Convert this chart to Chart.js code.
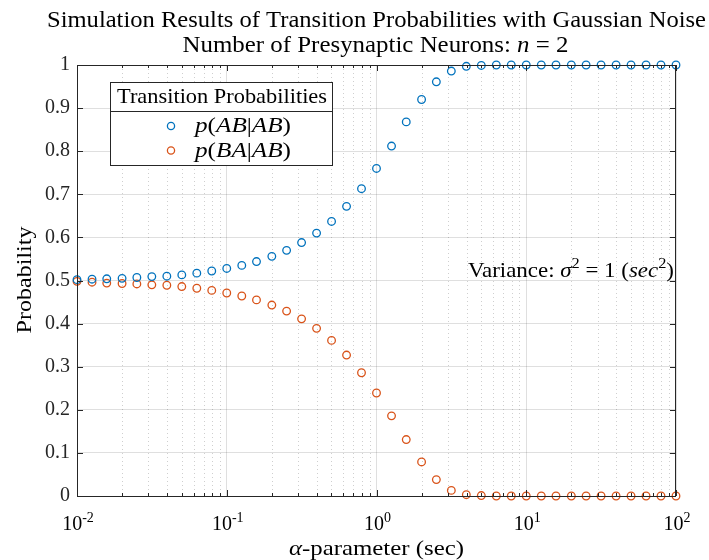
<!DOCTYPE html>
<html lang="en">
<head>
<meta charset="UTF-8">
<title>Transition Probabilities</title>
<style>
  html, body { margin: 0; padding: 0; background: #fff; }
  #chart { display: block; }
</style>
</head>
<body>
<canvas id="chart" width="709" height="560"></canvas>
<script src="https://cdn.jsdelivr.net/npm/chart.js"></script>
<script>
// alpha-parameter values (sec), 10 per decade
const alphaValues = [
  0.01, 0.0126, 0.0158, 0.02, 0.0251, 0.0316, 0.0398, 0.0501, 0.0631, 0.0794,
  0.1, 0.126, 0.158, 0.2, 0.251, 0.316, 0.398, 0.501, 0.631, 0.794,
  1, 1.26, 1.58, 2, 2.51, 3.16, 3.98, 5.01, 6.31, 7.94,
  10, 12.6, 15.8, 20, 25.1, 31.6, 39.8, 50.1, 63.1, 79.4,
  100
];
const pABgivenAB = [
  0.502, 0.503, 0.504, 0.505, 0.507, 0.509, 0.510, 0.513, 0.517, 0.522,
  0.528, 0.535, 0.544, 0.556, 0.570, 0.588, 0.610, 0.637, 0.672, 0.713,
  0.760, 0.812, 0.868, 0.920, 0.961, 0.986, 0.997, 0.999, 1, 1,
  1, 1, 1, 1, 1, 1, 1, 1, 1, 1,
  1
];
const pBAgivenAB = [
  0.498, 0.496, 0.494, 0.493, 0.492, 0.490, 0.489, 0.486, 0.482, 0.477,
  0.471, 0.464, 0.455, 0.443, 0.429, 0.411, 0.389, 0.361, 0.327, 0.286,
  0.239, 0.186, 0.131, 0.079, 0.038, 0.013, 0.003, 0.001, 0, 0,
  0, 0, 0, 0, 0, 0, 0, 0, 0, 0,
  0
];
const seriesLabels = ['p(AB|AB)', 'p(BA|AB)'];
const xDecades = [0.01, 0.1, 1, 10, 100];
const xDecadeExponents = ['-2', '-1', '0', '1', '2'];
const yTicks = [0, 0.1, 0.2, 0.3, 0.4, 0.5, 0.6, 0.7, 0.8, 0.9, 1];

const SERIF = '"Liberation Serif", "DejaVu Serif", serif';
const AXIS = '#262626';
const BLUE = '#0072BD';
const ORANGE = '#D95319';

// x ticks: 1..9 in every decade
const xTickValues = [];
xDecades.forEach((d, i) => {
  if (i === xDecades.length - 1) { xTickValues.push(d); return; }
  for (let m = 1; m <= 9; m++) xTickValues.push(+(m * d).toPrecision(3));
});
const isDecade = v => Math.abs(Math.log10(v) - Math.round(Math.log10(v))) < 1e-6;

function partFont(p, size) {
  const s = p.sup ? Math.round(size * 0.7) : size;
  return (p.it ? 'italic ' : '') + s + 'px ' + SERIF;
}
// draws text made of upright / italic / superscript pieces,
// optionally stretched to a given width (the original uses wider TeX fonts)
function drawRich(ctx, parts, x, y, size, align, width) {
  ctx.save();
  ctx.textBaseline = 'alphabetic';
  ctx.textAlign = 'left';
  ctx.fillStyle = '#000';
  let total = 0;
  const widths = parts.map(p => {
    ctx.font = partFont(p, size);
    const w = ctx.measureText(p.t).width;
    total += w;
    return w;
  });
  const sx = width ? width / total : 1;
  const full = total * sx;
  const left = align === 'center' ? x - full / 2 : align === 'right' ? x - full : x;
  ctx.translate(left, y);
  ctx.scale(sx, 1);
  let cx = 0;
  parts.forEach((p, i) => {
    ctx.font = partFont(p, size);
    ctx.fillText(p.t, cx, p.sup ? -size * 0.42 : 0);
    cx += widths[i];
  });
  ctx.restore();
}
// "p(AB|AB)" -> letters italic, brackets upright
function mathParts(s) {
  return s.split(/([()|])/).filter(t => t).map(t => ({ t: t, it: !/[()|]/.test(t) }));
}

const matlabAxes = {
  id: 'matlabAxes',
  beforeDatasetsDraw(chart) {
    const { ctx, chartArea: a } = chart;
    const xs = chart.scales.x;
    ctx.save();
    // minor dotted x grid
    ctx.strokeStyle = 'rgba(38,38,38,0.22)';
    ctx.lineWidth = 1;
    ctx.setLineDash([1, 3]);
    xTickValues.filter(v => !isDecade(v)).forEach(v => {
      const px = Math.round(xs.getPixelForValue(v)) + 0.5;
      ctx.beginPath();
      ctx.moveTo(px, a.top);
      ctx.lineTo(px, a.bottom);
      ctx.stroke();
    });
    ctx.setLineDash([]);
    ctx.restore();
  },
  afterDraw(chart) {
    const { ctx, chartArea: a } = chart;
    const xs = chart.scales.x, ys = chart.scales.y;
    ctx.save();
    // box and inward ticks
    ctx.strokeStyle = AXIS;
    ctx.lineWidth = 1;
    ctx.strokeRect(a.left + 0.5, a.top + 0.5, a.right - a.left - 1, a.bottom - a.top);
    ctx.beginPath();
    xTickValues.forEach(v => {
      const px = Math.round(xs.getPixelForValue(v)) + 0.5;
      const len = isDecade(v) ? 6 : 3;
      ctx.moveTo(px, a.bottom); ctx.lineTo(px, a.bottom - len);
      ctx.moveTo(px, a.top); ctx.lineTo(px, a.top + len);
    });
    yTicks.forEach(v => {
      const py = Math.round(ys.getPixelForValue(v)) + 0.5;
      ctx.moveTo(a.left, py); ctx.lineTo(a.left + 6, py);
      ctx.moveTo(a.right, py); ctx.lineTo(a.right - 6, py);
    });
    ctx.stroke();

    // x tick labels 10^n
    xDecades.forEach((d, i) => {
      const px = xs.getPixelForValue(d);
      drawRich(ctx, [{ t: '10' }, { t: xDecadeExponents[i], sup: true }], px + 1, 530, 20, 'center');
    });

    // title
    const cx = (a.left + a.right) / 2;
    drawRich(ctx, [{ t: 'Simulation Results of Transition Probabilities with Gaussian Noise' }], cx, 27, 23, 'center', 659);
    drawRich(ctx, [{ t: 'Number of Presynaptic Neurons: ' }, { t: 'n', it: true }, { t: ' = 2' }], cx - 1, 52, 23, 'center', 386);

    // axis labels
    drawRich(ctx, [{ t: 'α', it: true }, { t: '-parameter (sec)' }], cx, 555, 22, 'center', 175);
    ctx.save();
    ctx.translate(31, 280);
    ctx.rotate(-Math.PI / 2);
    drawRich(ctx, [{ t: 'Probability' }], 0, 0, 22, 'center', 107);
    ctx.restore();

    // annotation
    drawRich(ctx, [
      { t: 'Variance: ' }, { t: 'σ', it: true }, { t: '2', sup: true }, { t: ' = 1 (' },
      { t: 'sec', it: true }, { t: '2', sup: true }, { t: ')' }
    ], 674, 277, 21, 'right', 206);

    // legend box
    const L = { x: 110, y: 82, w: 222, h: 83, sep: 111 };
    ctx.fillStyle = '#fff';
    ctx.fillRect(L.x, L.y, L.w, L.h);
    ctx.strokeStyle = AXIS;
    ctx.lineWidth = 1;
    ctx.strokeRect(L.x + 0.5, L.y + 0.5, L.w, L.h);
    ctx.beginPath();
    ctx.moveTo(L.x, L.sep + 0.5); ctx.lineTo(L.x + L.w, L.sep + 0.5);
    ctx.stroke();
    drawRich(ctx, [{ t: 'Transition Probabilities' }], 222, 103, 21, 'center', 210);
    chart.data.datasets.forEach((ds, i) => {
      const my = 126 + i * 24.5;
      ctx.strokeStyle = ds.borderColor;
      ctx.lineWidth = 1.3;
      ctx.beginPath();
      ctx.arc(171, my, 3.6, 0, Math.PI * 2);
      ctx.stroke();
      drawRich(ctx, mathParts(ds.label), 195, my + 6, 21, 'left', 96);
    });
    ctx.restore();
  }
};

new Chart(document.getElementById('chart'), {
  type: 'scatter',
  data: {
    datasets: [
      {
        label: seriesLabels[0],
        data: alphaValues.map((a, i) => ({ x: a, y: pABgivenAB[i] })),
        borderColor: BLUE,
        backgroundColor: 'rgba(0,0,0,0)',
        pointRadius: 3.8,
        pointBorderWidth: 1.3,
        clip: false
      },
      {
        label: seriesLabels[1],
        data: alphaValues.map((a, i) => ({ x: a, y: pBAgivenAB[i] })),
        borderColor: ORANGE,
        backgroundColor: 'rgba(0,0,0,0)',
        pointRadius: 3.8,
        pointBorderWidth: 1.3,
        clip: false
      }
    ]
  },
  options: {
    responsive: false,
    animation: false,
    layout: { padding: { top: 65, right: 33, left: 0, bottom: 0 } },
    plugins: {
      legend: { display: false },
      tooltip: { enabled: false }
    },
    scales: {
      x: {
        type: 'logarithmic',
        min: 0.01,
        max: 100,
        afterBuildTicks: s => { s.ticks = xTickValues.map(v => ({ value: v, major: isDecade(v) })); },
        afterFit: s => { s.height = 64; },
        ticks: { callback: () => '', autoSkip: false, maxRotation: 0 },
        grid: {
          drawTicks: false,
          color: c => (c.tick && isDecade(c.tick.value)) ? 'rgba(38,38,38,0.15)' : 'rgba(0,0,0,0)'
        },
        border: { display: false }
      },
      y: {
        min: 0,
        max: 1,
        afterBuildTicks: s => { s.ticks = yTicks.map(v => ({ value: v })); },
        afterFit: s => { s.width = 77; },
        ticks: {
          padding: 7,
          color: AXIS,
          font: { family: SERIF, size: 20 },
          callback: v => String(+v.toFixed(1))
        },
        grid: { drawTicks: false, color: 'rgba(38,38,38,0.15)' },
        border: { display: false }
      }
    }
  },
  plugins: [matlabAxes]
});
</script>
</body>
</html>
